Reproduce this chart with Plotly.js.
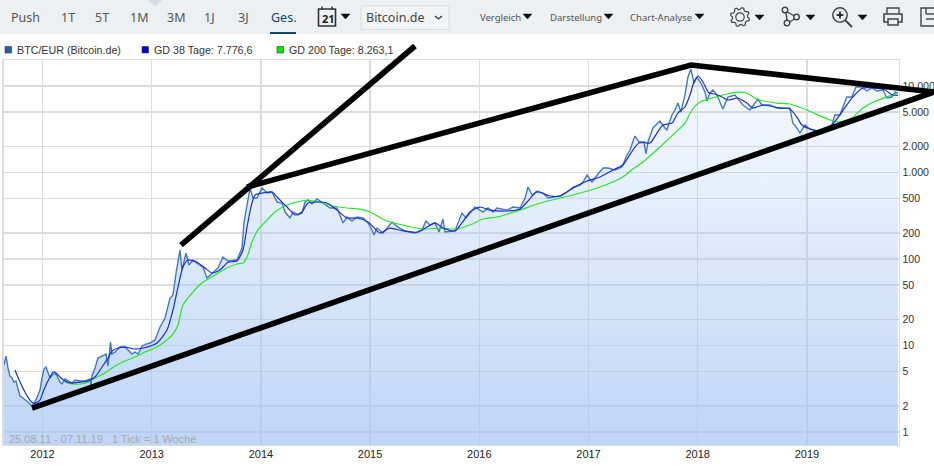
<!DOCTYPE html>
<html><head><meta charset="utf-8">
<script src="https://cdn.plot.ly/plotly-3.0.1.min.js"></script>
<style>html,body{margin:0;padding:0;background:#fff;overflow:hidden}#c{width:934px;height:468px}</style>
</head><body><div id="c"></div>
<script>
const priceYears=[2011.647,2011.666,2011.684,2011.702,2011.721,2011.739,2011.757,2011.776,2011.794,2011.821,2011.849,2011.876,2011.904,2011.931,2011.959,2011.977,2011.995,2012.014,2012.032,2012.05,2012.069,2012.096,2012.124,2012.16,2012.179,2012.206,2012.234,2012.27,2012.298,2012.343,2012.389,2012.435,2012.444,2012.453,2012.481,2012.508,2012.545,2012.582,2012.6,2012.623,2012.636,2012.664,2012.71,2012.755,2012.783,2012.82,2012.847,2012.875,2012.911,2012.948,2012.984,2013.03,2013.076,2013.122,2013.168,2013.195,2013.223,2013.259,2013.277,2013.314,2013.341,2013.378,2013.424,2013.47,2013.506,2013.552,2013.607,2013.653,2013.698,2013.781,2013.827,2013.845,2013.873,2013.9,2013.928,2013.964,2014.01,2014.056,2014.102,2014.148,2014.193,2014.221,2014.267,2014.294,2014.34,2014.376,2014.404,2014.431,2014.468,2014.514,2014.569,2014.633,2014.697,2014.752,2014.788,2014.834,2014.88,2014.935,2014.981,2015.008,2015.036,2015.063,2015.118,2015.2,2015.255,2015.32,2015.411,2015.475,2015.512,2015.548,2015.594,2015.631,2015.667,2015.686,2015.777,2015.841,2015.878,2015.96,2016.034,2016.08,2016.125,2016.162,2016.254,2016.309,2016.373,2016.419,2016.446,2016.483,2016.529,2016.584,2016.63,2016.74,2016.804,2016.859,2016.923,2016.95,2016.987,2017.032,2017.087,2017.133,2017.178,2017.242,2017.306,2017.352,2017.38,2017.425,2017.471,2017.508,2017.526,2017.545,2017.59,2017.654,2017.7,2017.718,2017.764,2017.792,2017.819,2017.846,2017.883,2017.911,2017.938,2017.966,2017.993,2018.039,2018.067,2018.085,2018.112,2018.14,2018.176,2018.231,2018.277,2018.341,2018.414,2018.478,2018.551,2018.588,2018.661,2018.725,2018.844,2018.871,2018.908,2018.936,2018.982,2019.027,2019.1,2019.183,2019.228,2019.256,2019.302,2019.366,2019.412,2019.449,2019.504,2019.55,2019.595,2019.641,2019.696,2019.732,2019.778,2019.806,2019.833];
const priceValues=[5.95,7.56,5.49,4.44,4.21,3.78,3.89,3.23,2.61,2.47,2.34,2.17,2.0,2.22,2.68,3.06,4.21,5.35,5.64,4.94,4.21,4.68,4.68,3.78,3.59,4.10,3.89,3.68,3.99,3.89,3.89,4.10,3.49,4.44,5.49,7.17,7.56,7.97,5.79,11.0,7.97,8.41,9.60,9.6,8.87,7.97,8.41,7.97,9.86,10.4,10.7,11.6,16.4,20.8,35.4,38.4,68.9,127,74.6,117,85.2,97.3,87.5,80.8,60.3,68.9,78.7,105.5,94.8,97.3,134,261,444,662,507,507,662,579,595,456,444,349,298,349,323,340,456,481,432,494,444,389,389,261,306,275,306,298,261,228,190,228,200,268,234,211,200,217,275,247,261,205,290,205,211,340,298,399,349,389,349,389,368,399,389,507,679,549,611,579,507,535,595,679,717,776,935,776,960,1127,1127,1070,1157,1594,1820,2640,2190,2250,1640,2250,3270,3940,3270,3100,4620,5280,6350,5000,7860,12700,15700,10800,12700,10270,8500,6700,8300,9000,7860,5420,7460,7860,6030,5280,7070,6030,6030,5560,5560,3730,3270,2860,3540,3180,3020,3360,3540,4620,4620,7460,7460,9730,9730,8750,9480,8750,9000,7260,7460,8500,8300];

const gd38Years=[2011.748,2011.794,2011.839,2011.885,2011.913,2011.94,2011.977,2012.005,2012.032,2012.069,2012.096,2012.124,2012.16,2012.206,2012.27,2012.343,2012.417,2012.481,2012.545,2012.6,2012.636,2012.691,2012.755,2012.847,2012.92,2013.049,2013.14,2013.195,2013.241,2013.286,2013.332,2013.415,2013.488,2013.552,2013.625,2013.698,2013.781,2013.836,2013.873,2013.909,2013.946,2014.01,2014.102,2014.157,2014.239,2014.312,2014.376,2014.431,2014.514,2014.605,2014.697,2014.788,2014.88,2014.981,2015.09,2015.182,2015.301,2015.438,2015.521,2015.594,2015.667,2015.777,2015.841,2015.914,2016.006,2016.098,2016.254,2016.373,2016.437,2016.529,2016.648,2016.74,2016.859,2016.987,2017.106,2017.242,2017.315,2017.406,2017.471,2017.563,2017.627,2017.682,2017.764,2017.819,2017.883,2017.929,2017.966,2018.003,2018.048,2018.103,2018.158,2018.222,2018.277,2018.368,2018.45,2018.505,2018.597,2018.753,2018.844,2018.908,2018.954,2019.027,2019.118,2019.228,2019.32,2019.412,2019.513,2019.604,2019.714,2019.787,2019.833];
const gd38Values=[5.21,3.78,2.90,2.34,2.17,2.17,2.34,2.90,3.49,4.32,4.94,4.81,4.32,3.89,3.68,3.78,3.89,4.32,5.64,7.17,8.63,9.35,9.6,9.11,9.35,10.7,15.1,25.8,47.4,80.8,97.3,91.7,78.7,68.9,74.6,91.7,94.8,127,234,399,549,579,595,507,399,323,349,444,456,444,368,298,298,268,200,228,211,205,234,261,228,211,261,349,399,368,359,378,456,595,535,535,662,797,887,1097,1220,1820,2250,2190,2860,3540,3730,4870,5720,7860,11120,13050,11120,8300,8080,7460,6890,7260,6350,5560,6030,5560,5420,4380,3540,3180,3020,3540,5000,7260,9480,9480,9000,7860,7777];

const gd200Years=[2012.206,2012.27,2012.343,2012.417,2012.481,2012.572,2012.664,2012.755,2012.847,2012.939,2013.03,2013.103,2013.186,2013.241,2013.286,2013.369,2013.46,2013.579,2013.689,2013.781,2013.836,2013.873,2013.918,2013.973,2014.056,2014.129,2014.239,2014.33,2014.422,2014.523,2014.66,2014.788,2014.907,2014.999,2015.154,2015.337,2015.484,2015.64,2015.795,2015.914,2016.034,2016.162,2016.4,2016.529,2016.74,2016.859,2017.106,2017.315,2017.406,2017.498,2017.654,2017.773,2017.883,2017.947,2018.02,2018.13,2018.268,2018.387,2018.45,2018.542,2018.725,2018.844,2019.0,2019.21,2019.302,2019.412,2019.513,2019.604,2019.732,2019.833];
const gd200Values=[3.78,3.59,3.59,3.78,4.21,4.81,5.79,6.62,7.36,8.41,9.35,10.7,13.2,17.3,29.4,40.4,52.8,65.3,78.7,87.5,90,105.5,157,217,282,349,421,456,481,456,410,389,378,349,275,241,222,228,222,247,290,306,378,432,507,549,679,887,1097,1320,1970,2720,3730,5280,6530,7260,8080,8500,8300,7070,6350,6190,5280,4040,3840,4270,5560,6500,7460,8263];

const fanYears=[2013.268,2015.411];
const fanValues=[145,29000];
const upperYears=[2013.873,2017.938,2020.164];
const upperValues=[680,17500,8530];
const lowerYears=[2011.904,2020.164];
const lowerValues=[1.89,8530];

const yearTicks=[2012,2013,2014,2015,2016,2017,2018,2019];
const yearLabels=['2012','2013','2014','2015','2016','2017','2018','2019'];
const priceTicks=[1,2,5,10,20,50,100,200,500,1000,2000,5000,10000];
const priceLabels=['1','2','5','10','20','50','100','200','500','1.000','2.000','5.000','10.000'];
const rangeButtons=['Push','1T','5T','1M','3M','1J','3J','Ges.'];
const rangeButtonX=[10,60,94,129,166,203,237,270];
const menuLabels=['Vergleich','Darstellung','Chart-Analyse'];
const menuX=[479,549,629];
const legendLabels=['BTC/EUR (Bitcoin.de)','GD 38 Tage: 7.776,6','GD 200 Tage: 8.263,1'];
const legendColors=['#2b5ea8','#0000e6','#00ee00'];
const legendX=[4,141,276];

// page-pixel helpers for the toolbar and legend chrome only
const L=3.5,R=899,T=60,B=445,W=934,H=468;
const px=x=>x/W, py=y=>(H-y)/H;
const pt=(x,y)=>px(x).toFixed(5)+','+py(y).toFixed(5);
const path=(cmds,o={})=>({type:'path',xref:'paper',yref:'paper',layer:'above',
  path:cmds.map(c=>typeof c==='string'?c:pt(c[0],c[1])).join(' ').replace(/([MLZ]) /g,'$1'),
  line:{color:o.c||'#444',width:o.w===undefined?1.4:o.w},fillcolor:o.f||'rgba(0,0,0,0)'});
const rect=(x0,y0,x1,y1,f,lc,w)=>({type:'rect',xref:'paper',yref:'paper',layer:'above',x0:px(x0),x1:px(x1),y0:py(y0),y1:py(y1),fillcolor:f,line:{color:lc||f,width:w||0}});
const circ=(cx,cy,r,o={})=>({type:'circle',xref:'paper',yref:'paper',layer:'above',x0:px(cx-r),x1:px(cx+r),y0:py(cy+r),y1:py(cy-r),fillcolor:o.f||'rgba(0,0,0,0)',line:{color:o.c||'#444',width:o.w||1.4}});
const caret=(x,y,w=9)=>path(['M',[x,y],'L',[x+w,y],'L',[x+w/2,y+5],'Z'],{c:'#111',f:'#111',w:0.5});
const seg=(x0,y0,x1,y1,c,w)=>path(['M',[x0,y0],'L',[x1,y1]],{c:c||'#444',w:w||1.4});
const text=(s,x,y,size,color,fam,extra={})=>Object.assign({xref:'paper',yref:'paper',x:px(x),y:py(y),text:s,showarrow:false,xanchor:'left',yanchor:'middle',borderpad:0,
  font:{size:size,color:color,family:fam}},extra);
const cog=(cx,cy,teeth,r0,r1)=>{const c=[];for(let i=0;i<teeth*4;i++){const a=i*Math.PI/(teeth*2),r=(i%4<2)?r1:r0;
  c.push(i?'L':'M',[cx+r*Math.cos(a+0.2),cy+r*Math.sin(a+0.2)]);}c.push('Z');return path(c,{c:'#444',w:1.2});};

const shapes=[
  rect(0,0,934,34,'#ecf0f3'),
  path(['M',[148,0],'L',[162,0],'L',[155,6],'Z'],{c:'#d5dde3',f:'#d5dde3',w:0.5}),
  rect(270,32,296,34,'#0f4a6e'),
  rect(318.5,9,335.5,26,'rgba(0,0,0,0)','#333',1.6),
  seg(322,6.5,322,10,'#333',1.5),seg(332,6.5,332,10,'#333',1.5),
  caret(341,14),
  rect(361,6,449,29.5,'#f1f3f5','#d9dee2',1),
  seg(435,16,438.5,19,'#333',1.2),seg(438.5,19,442,16,'#333',1.2),
  caret(523,14),caret(604,14),caret(695,14),
  // gear
  cog(740,17,8,7.6,9.6),circ(740,17,4.2,{c:'#444',w:1.2}),caret(755,15),
  // network
  circ(785,10,2.8),circ(787,23,2.8),circ(796.5,17,2.8),seg(786,13,787,20),seg(789.5,22,794.5,19),seg(787,12,794.5,16),caret(806,15),
  // zoom
  circ(840,15,7.2,{w:1.5}),seg(845,20,852,27,'#444',2),seg(836.5,15,843.5,15,'#222',1.8),seg(840,11.5,840,18.5,'#222',1.8),caret(858,15),
  // printer
  path(['M',[887,14],'L',[887,8],'L',[899,8],'L',[899,14]]),
  rect(884,14,902,22,'rgba(0,0,0,0)','#444',1.6),
  rect(888,19,898,25,'#ecf0f3','#444',1.5),
  // save
  path(['M',[934,8],'L',[921,8],'L',[921,26],'L',[934,26]]),
  seg(926,8,926,14),seg(926,14,934,14),seg(926,19,934,19),
  // legend swatches
  ...legendX.map((x,i)=>rect(x+1,46.5,x+7.5,53,legendColors[i],'#333',0.6))
];
const annotations=[
  ...rangeButtons.map((s,i)=>text(s,rangeButtonX[i],18,12.5,i===7?'#0f4a6e':'#555','"Noto Sans"')),
  text('<b>21</b>',320.5,18.5,11,'#222','"Noto Sans"'),
  text('Bitcoin.de',365,18,12.5,'#444','"Noto Sans"'),
  ...menuLabels.map((s,i)=>text(s,menuX[i],17.5,9.5,'#555','"Noto Sans"')),
  ...legendLabels.map((s,i)=>text(s,legendX[i]+11.5,50,10.7,'#333','"Liberation Sans"')),
  text('25.08.11 - 07.11.19 &nbsp; 1 Tick = 1 Woche',8,439,11,'#a9a9a9','"Liberation Sans"')
];

const overlay={xaxis:'x2',yaxis:'y2',type:'scatter',mode:'lines',line:{color:'#000',width:5.6}};
const traces=[
 {x:priceYears,y:priceValues,type:'scatter',mode:'lines',fill:'tozeroy',
  line:{color:'#3f78c6',width:1.4},
  fillgradient:{type:'vertical',start:0.708,stop:15000,colorscale:[[0,'rgba(165,198,243,0.72)'],[1,'rgba(165,198,243,0.08)']]}},
 {x:gd200Years,y:gd200Values,type:'scatter',mode:'lines',line:{color:'#1fec1f',width:1.2,shape:'spline',smoothing:0.6}},
 {x:gd38Years,y:gd38Values,type:'scatter',mode:'lines',line:{color:'#1a2be0',width:1.2,shape:'spline',smoothing:0.6}},
 Object.assign({x:fanYears,y:fanValues},overlay),
 Object.assign({x:upperYears,y:upperValues},overlay),
 Object.assign({x:lowerYears,y:lowerValues},overlay)
];
const layout={
 width:W,height:H,showlegend:false,paper_bgcolor:'#fff',plot_bgcolor:'rgba(0,0,0,0)',
 margin:{l:0,r:0,t:0,b:0,pad:0},
 xaxis:{type:'linear',domain:[L/W,R/W],anchor:'y',range:[2011.6429,2019.8434],tickmode:'array',tickvals:yearTicks,ticktext:yearLabels,
   showgrid:true,gridcolor:'#dcdcdc',gridwidth:1.3,zeroline:false,showline:true,linecolor:'#dcdcdc',linewidth:1.3,mirror:true,
   ticks:'',ticklabelstandoff:-2,tickfont:{family:'"Liberation Sans"',size:11,color:'#222'},automargin:false},
 yaxis:{type:'log',side:'right',domain:[(H-B)/H,(H-T)/H],anchor:'x',range:[-0.15,4.3006],tickmode:'array',tickvals:priceTicks,ticktext:priceLabels,
   showgrid:true,gridcolor:'#dcdcdc',gridwidth:1.3,zeroline:false,showline:true,linecolor:'#dcdcdc',linewidth:1.3,mirror:true,
   ticks:'',tickfont:{family:'"Liberation Sans"',size:10.6,color:'#333'},automargin:false},
 xaxis2:{type:'linear',domain:[0,1],anchor:'y2',range:[2011.6108,2020.1639],visible:false,fixedrange:true},
 yaxis2:{type:'log',domain:[0,1],anchor:'x2',range:[-0.4162,4.9942],visible:false,fixedrange:true},
 shapes:shapes,annotations:annotations
};
Plotly.newPlot('c',traces,layout,{displayModeBar:false,staticPlot:true});
</script></body></html>
